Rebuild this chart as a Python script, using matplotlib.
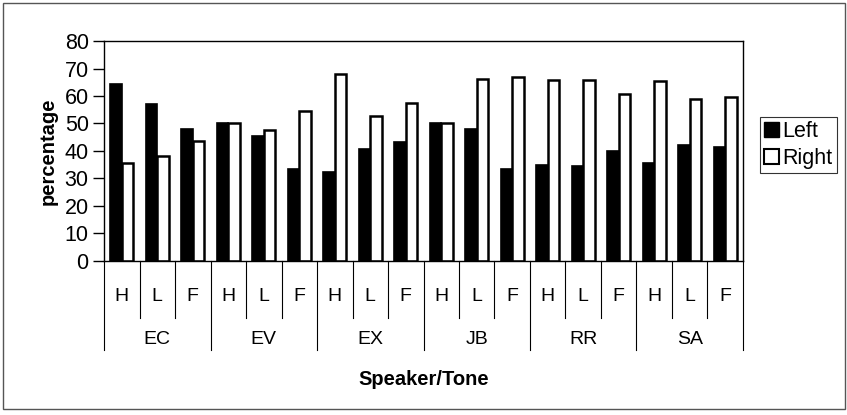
import matplotlib.pyplot as plt
from matplotlib.patches import Rectangle, Patch

plt.rcParams['font.family'] = ['Liberation Sans', 'DejaVu Sans']

speakers = ["EC", "EV", "EX", "JB", "RR", "SA"]
tones = ["H", "L", "F"]
left_pct = [64.5, 57.2, 48.0, 50.2, 45.6, 33.6,
            32.5, 40.8, 43.3, 50.3, 48.0, 33.6,
            34.8, 34.7, 40.0, 35.6, 42.0, 41.3]
right_pct = [35.5, 38.2, 43.8, 50.0, 47.8, 54.5,
             68.0, 52.6, 57.5, 50.3, 66.2, 66.8,
             66.0, 66.0, 60.8, 65.3, 58.8, 59.6]

n = len(left_pct)
x = list(range(n))
w = 0.33

fig = plt.figure(figsize=(8.47, 4.15), dpi=100)
ax = fig.add_axes([0.1228, 0.3711, 0.7544, 0.5301])

ax.bar([i - w / 2 for i in x], left_pct, w, color="black", edgecolor="black", linewidth=1.2, label="Left")
ax.bar([i + w / 2 for i in x], right_pct, w, color="white", edgecolor="black", linewidth=1.8, label="Right")

ax.set_xlim(-0.5, n - 0.5)
ax.set_ylim(0, 80)
ax.set_yticks(range(0, 81, 10))
ax.tick_params(axis="y", labelsize=15.5, length=8, width=1, direction="out", pad=3)
ax.set_xticks([])
for s in ax.spines.values():
    s.set_linewidth(1.0)

# two-level category axis drawn under the plot
tr = ax.get_xaxis_transform()
for b in range(n + 1):
    bottom = -0.405 if b % 3 == 0 else -0.259
    ax.plot([b - 0.5, b - 0.5], [0, bottom], color="black", lw=0.8,
            transform=tr, clip_on=False)
for i in x:
    ax.text(i, -0.16, tones[i % 3], transform=tr, ha="center", va="center", fontsize=14)
for g, name in enumerate(speakers):
    ax.text(g * 3 + 1, -0.355, name, transform=tr, ha="center", va="center", fontsize=14)

ax.text(0.5, -0.54, "Speaker/Tone", transform=ax.transAxes, ha="center", va="center",
        fontsize=14.5, fontweight="bold")
ax.set_ylabel("percentage", fontsize=14.5, fontweight="bold", labelpad=5)

handles = [Patch(facecolor="black", edgecolor="black", label="Left"),
           Patch(facecolor="white", edgecolor="black", linewidth=1.5, label="Right")]
leg = fig.legend(handles=handles, loc="upper left", bbox_to_anchor=(760 / 847, 1 - 117 / 415),
                 fontsize=15.5, frameon=True, fancybox=False, handlelength=0.7, handleheight=0.7,
                 handletextpad=0.15, borderpad=0.2, labelspacing=0.25, borderaxespad=0)
leg.get_frame().set_edgecolor("black")
leg.get_frame().set_linewidth(0.8)

fig.patches.append(Rectangle((3 / 847, 6 / 415), 842 / 847, 406 / 415, transform=fig.transFigure,
                             fill=False, edgecolor="#555555", linewidth=1.0))

fig.savefig("out.png", dpi=100)
